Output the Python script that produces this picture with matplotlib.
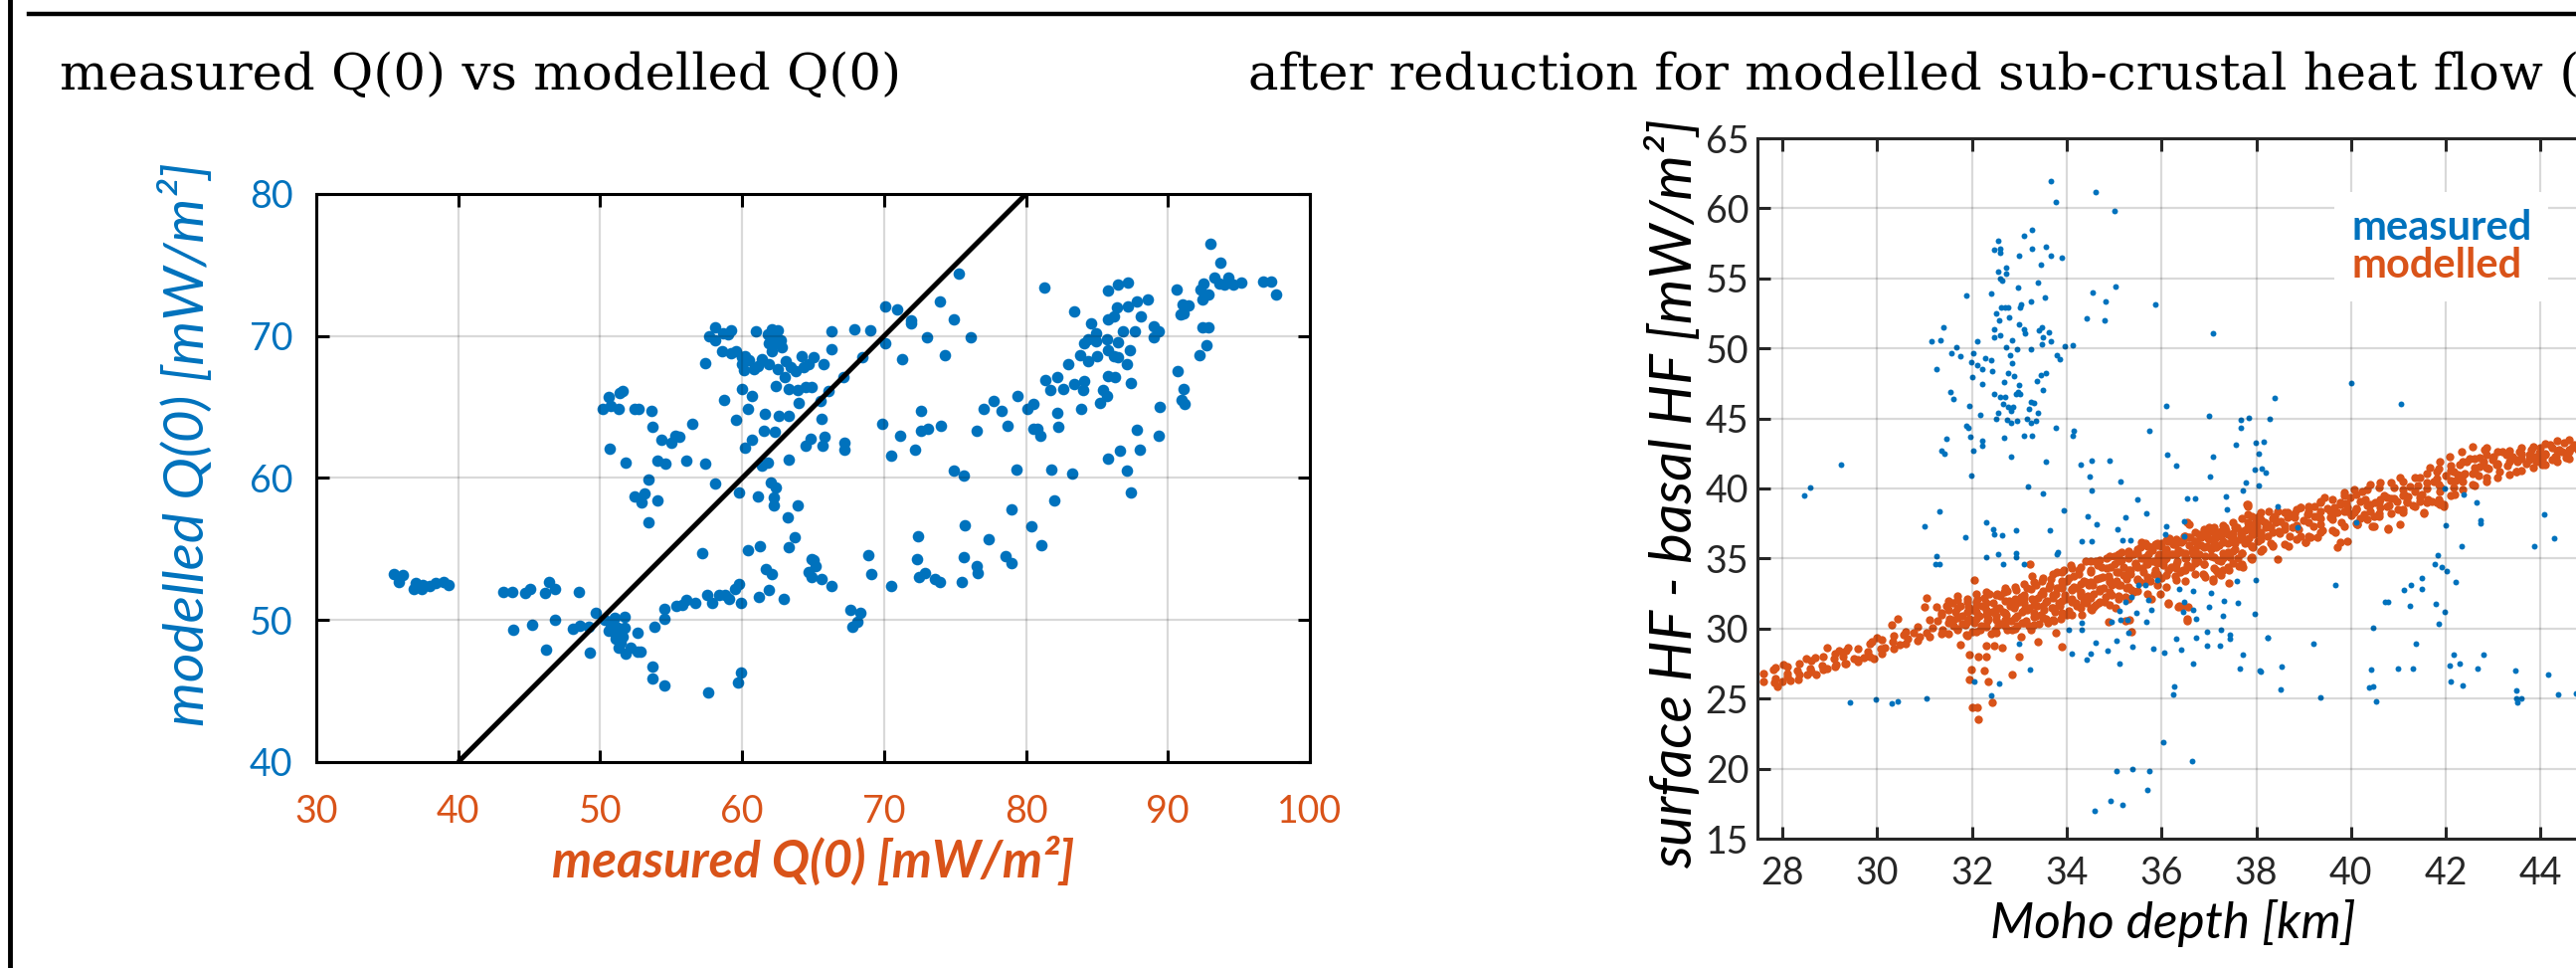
import numpy as np
import matplotlib.pyplot as plt

plt.rcParams['font.family'] = ['Lato', 'DejaVu Sans']

blue = '#0072BD'
orange = '#D95319'
dark = '#262626'

# ---- left panel: measured vs modelled Q(0) [mW/m2]
measured_q = [
    35.5, 36.1, 35.8, 36.9, 37.0, 37.4, 37.5, 38.0, 38.4, 39.0, 39.3,
    43.2, 43.8, 44.7, 45.1, 46.1, 46.4, 46.8, 48.5, 43.9, 45.2, 46.8, 46.2,
    48.1, 48.6, 49.2, 49.3, 49.7, 50.35, 50.75, 51.05, 50.6, 51.2, 51.7,
    51.1, 51.45, 51.3, 51.8, 52.15, 52.6, 52.86, 51.7, 52.6, 51.0, 51.6,
    53.8, 54.5, 54.5, 53.7, 53.7, 54.5, 57.6, 59.9, 59.7, 55.4, 55.8, 56.1,
    56.7, 57.55, 57.9, 58.4, 58.8, 59.1, 59.5, 59.8, 59.9, 57.2, 60.4, 61.25,
    61.65, 62.1, 61.2, 61.9, 62.9, 64.7, 64.9, 64.9, 50.2, 50.6, 50.75,
    51.3, 51.4, 51.6, 52.4, 52.7, 53.6, 53.7, 54.3, 55.0, 55.3, 55.6, 56.5,
    50.7, 51.8, 54.0, 54.6, 56.1, 57.4, 53.4, 52.4, 53.1, 52.9, 54.0, 53.4,
    58.1, 59.8, 61.1, 60.2, 60.7, 61.5, 62.3, 61.4, 61.8, 62.0, 62.35, 62.2,
    62.2, 63.9, 63.2, 63.7, 63.3, 63.3, 64.5, 64.8, 57.4, 57.7, 58.1, 58.1,
    58.65, 59.0, 59.2, 58.6, 59.2, 59.6, 60.2, 60.0, 60.5, 60.1, 60.8, 61.1,
    61.4, 61.0, 61.8, 62.1, 62.5, 62.2, 62.7, 62.3, 62.8, 61.9, 62.1, 61.9,
    62.5, 63.1, 63.4, 63.8, 64.3, 64.2, 64.7, 65.05, 63.0, 62.35, 63.25,
    63.9, 64.5, 64.9, 64.0, 63.3, 62.6, 61.6, 60.0, 60.7, 58.7, 60.4, 59.6,
    60.0,
    65.75, 66.3, 66.3, 67.9, 69.0, 70.1, 70.9, 71.9, 71.9, 73.9, 75.3, 74.9,
    73.0, 76.1, 70.1, 71.3, 74.3, 68.5, 67.15, 66.1, 65.5, 65.6, 65.8, 65.7,
    67.2, 67.2, 69.9, 71.1, 70.5, 72.2, 72.6, 72.6, 73.1, 74.0, 76.5, 77.0,
    77.7, 78.3, 78.7, 79.4, 80.1, 80.5, 80.5, 80.8, 81.0, 74.9, 75.6, 79.3,
    81.8, 83.25, 82.0, 79.0, 75.7, 72.4, 72.3, 72.45, 72.9, 73.6, 73.9, 75.5,
    75.6, 76.5, 76.6, 77.4, 78.55, 79.0, 80.4, 81.1, 70.5, 68.9, 69.1, 67.6,
    68.3, 68.1, 67.8, 65.6, 66.3, 65.2, 65.05, 81.3, 83.4, 81.35, 81.7, 82.2,
    82.6, 82.2, 82.3, 82.95, 83.4, 83.8, 83.9, 84.0, 84.1, 84.1, 84.4, 84.4,
    84.6, 84.9, 84.95, 85.0, 85.2, 85.4, 85.7, 85.7, 85.8, 85.8, 85.8, 85.8,
    86.3, 86.2, 86.5, 86.2, 86.4, 86.5, 86.5, 86.8, 87.1, 87.2, 87.2, 87.3,
    87.4, 87.7, 87.8, 88.1, 88.6, 89.0, 89.0, 89.35, 89.4, 89.35, 87.8, 88.0,
    86.6, 85.8, 87.1, 87.4, 90.6, 91.0, 91.45, 90.9, 91.1, 92.3, 92.5, 92.4,
    92.85, 92.4, 92.85, 92.7, 92.2, 93.0, 93.7, 93.3, 93.6, 94.0, 94.25,
    94.6, 95.2, 96.7, 97.3, 97.6, 90.7, 91.1, 90.95, 91.2,
]
modelled_q = [
    53.25, 53.2, 52.7, 52.2, 52.6, 52.2, 52.5, 52.4, 52.6, 52.7, 52.5,
    52.0, 51.95, 51.9, 52.2, 51.9, 52.65, 52.2, 52.0, 49.3, 49.7, 50.0, 47.9,
    49.4, 49.6, 49.5, 47.7, 50.5, 50.05, 49.74, 50.13, 49.27, 49.48, 49.48,
    48.7, 48.44, 48.05, 47.66, 48.05, 47.8, 47.8, 50.2, 49.1, 49.1, 48.8,
    49.5, 50.1, 50.8, 46.7, 45.9, 45.4, 44.9, 46.3, 45.6, 51.0, 51.1, 51.4,
    51.2, 51.8, 51.2, 51.8, 51.8, 51.5, 52.2, 52.55, 51.2, 54.7, 54.9, 55.2,
    53.6, 53.25, 51.6, 52.1, 51.5, 53.4, 53.0, 54.3, 64.9, 65.7, 65.1,
    64.9, 66.0, 66.1, 64.9, 64.9, 64.7, 63.6, 62.7, 62.5, 63.0, 62.9, 63.8,
    62.1, 61.1, 61.2, 61.0, 61.25, 61.0, 59.9, 58.7, 58.9, 58.3, 58.4, 56.9,
    59.6, 59.0, 58.7, 62.15, 62.7, 63.3, 63.25, 60.9, 61.1, 59.7, 59.35, 58.6,
    58.1, 58.05, 57.2, 55.8, 55.1, 61.3, 62.3, 62.8, 68.1, 69.95, 70.6, 69.7,
    70.2, 70.1, 70.4, 68.96, 68.8, 68.96, 68.6, 68.05, 68.3, 67.6, 67.7, 67.9,
    68.4, 70.3, 70.1, 70.5, 70.4, 69.9, 69.7, 69.5, 69.2, 69.5, 68.9, 68.05,
    67.7, 68.2, 67.8, 67.5, 67.8, 68.6, 68.0, 68.5, 67.1, 66.5, 66.3,
    66.2, 66.4, 66.4, 65.3, 64.4, 64.4, 64.55, 66.3, 65.8, 65.5, 64.9, 64.1,
    68.5,
    68.05, 69.1, 70.3, 70.5, 70.4, 72.1, 71.9, 71.1, 70.9, 72.4, 74.4, 71.2,
    69.9, 69.9, 69.5, 68.4, 68.65, 68.5, 67.1, 66.1, 65.4, 64.2, 62.9, 62.3,
    62.5, 62.0, 63.8, 63.0, 61.6, 62.0, 64.7, 63.3, 63.45, 63.7, 63.3, 64.9,
    65.45, 64.7, 63.7, 65.8, 64.9, 65.2, 63.5, 63.5, 63.0, 60.5, 60.2, 60.6,
    60.6, 60.3, 58.4, 57.8, 56.7, 55.9, 54.3, 53.0, 53.3, 52.9, 52.65, 52.65,
    54.4, 53.8, 53.3, 55.7, 54.5, 54.0, 56.6, 55.3, 52.4, 54.55, 53.25, 50.7,
    50.5, 49.9, 49.5, 52.9, 52.4, 53.8, 54.2, 73.4, 71.7, 66.9, 66.2, 67.1,
    66.3, 64.6, 63.6, 68.0, 66.6, 68.65, 64.9, 66.2, 66.8, 69.5, 69.8, 68.2,
    70.9, 70.2, 69.6, 68.6, 65.3, 66.2, 65.8, 69.8, 71.2, 69.0, 73.2, 67.2,
    67.1, 68.6, 68.5, 71.35, 72.0, 69.55, 73.6, 70.3, 68.05, 73.8, 72.1, 69.0,
    66.7, 70.3, 72.4, 71.4, 72.6, 70.65, 69.9, 70.3, 65.0, 63.0, 63.4, 62.0,
    61.9, 61.4, 60.5, 59.0, 73.25, 72.25, 72.15, 71.55, 71.6, 73.3, 73.7, 72.6,
    72.9, 70.6, 70.6, 69.35, 68.65, 76.5, 75.2, 74.1, 73.7, 73.6, 74.1,
    73.6, 73.8, 73.85, 73.85, 72.9, 67.5, 66.3, 65.5, 65.2,
]
one_to_one = [40, 80]

# ---- right panel: surface HF - basal HF vs Moho depth
moho_meas = [
    33.67, 34.6, 33.76, 35.0, 33.27, 33.09, 32.55, 32.47, 32.6, 32.6, 33.55,
    33.27, 33.0, 33.67, 33.89, 33.46, 32.55, 32.73, 32.71, 32.59, 32.64, 33.4,
    32.98, 32.4, 33.54, 31.87, 33.25, 33.04, 33.01, 32.62, 32.7, 32.76, 32.5,
    32.78, 32.57, 33.0, 32.47, 33.47, 33.09, 33.12, 33.41, 33.62, 33.5, 32.6,
    32.47, 31.4, 31.15, 31.34, 32.11, 32.84, 33.66, 33.96, 34.12, 33.47, 32.71,
    32.95, 33.25, 31.66, 31.56, 31.75, 32.03, 32.8, 33.78, 33.86, 32.28, 32.4,
    31.99, 32.12, 32.85, 32.43, 32.22, 31.24, 32.76, 32.01, 32.88, 33.55,
    33.46, 33.36, 32.67, 32.22, 33.0, 32.98, 32.94, 32.47, 32.6, 32.69, 33.02,
    33.5, 31.55, 31.61, 33.25, 33.31, 32.65, 32.76, 32.86, 31.94, 33.2, 32.82,
    33.4, 32.56, 32.17, 32.52, 32.75, 32.96, 33.16, 33.34, 33.24, 32.82,
    31.87, 31.92, 33.77, 34.15, 34.13, 33.26, 33.1, 32.68, 31.97, 31.45,
    32.22, 32.21, 31.35, 31.42, 32.03, 32.83, 33.55, 29.24, 28.59, 28.45,
    31.98, 33.18, 33.5, 34.3, 34.52, 34.48, 34.53, 34.9, 35.13, 35.5, 35.69,
    33.94, 34.45, 34.62, 35.24, 35.08, 35.18, 35.34, 34.52, 34.32, 33.78,
    33.81, 33.65, 32.92, 32.64, 32.45, 32.47, 32.31, 31.86, 31.31, 31.0,
    31.24, 31.22, 31.32, 32.3, 32.56, 32.65, 32.94, 32.93, 33.1, 36.09, 35.75,
    36.11, 36.31, 35.86, 35.02, 34.55, 34.81, 34.42, 34.8, 37.09, 37.0, 37.67,
    37.85, 38.28, 37.57, 37.67, 37.08, 37.03, 37.98, 38.16, 38.05, 38.12,
    38.2, 37.97, 37.78, 38.06, 37.71, 37.36, 37.39, 36.55, 36.7, 36.1, 36.47,
    36.07, 38.38,
    34.95, 35.14, 35.3, 35.38, 35.05, 34.86, 34.5, 34.6, 34.41, 35.11, 34.31,
    34.04, 34.11, 34.31, 35.83, 36.05, 36.31, 36.41, 36.26, 36.24, 36.66,
    36.73, 36.95, 36.96, 37.23, 37.25, 37.45, 37.45, 37.66, 37.71, 38.08,
    38.24, 37.96, 37.29, 37.0, 37.05, 36.66, 36.73, 36.66, 36.46, 36.37,
    36.48, 37.31, 37.61, 37.59, 37.99, 35.72, 35.78, 35.68, 35.46, 35.37,
    35.24, 35.11, 35.29, 36.03, 36.64, 35.04, 35.38, 35.74, 35.71, 34.92,
    35.17, 34.59, 33.22, 32.57, 32.41, 32.05, 31.03, 30.43, 30.3, 29.97,
    29.43, 32.99, 35.51, 36.47, 35.9, 35.66,
    40.01, 41.06, 42.0, 42.37, 42.65, 42.74, 42.74, 44.07, 44.29, 43.87,
    42.33, 41.97, 40.11, 38.87, 38.46, 41.83, 41.77, 41.91, 42.01, 42.2,
    41.5, 41.5, 41.26, 41.11, 41.79, 41.97, 41.86, 41.25, 40.71, 40.79,
    40.46, 41.36, 42.16, 42.79, 42.08, 42.29, 42.68, 42.1, 42.35, 43.46,
    44.17, 43.49, 43.48, 43.52, 43.6, 44.38, 44.74, 41.0, 41.3, 40.43,
    40.38, 40.46, 40.53, 39.36, 39.2, 39.66, 38.53, 38.52, 38.1, 38.25,
]
hf_meas = [
    61.97, 61.17, 60.44, 59.83, 58.46, 58.04, 57.69, 57.02, 57.12, 56.86,
    57.28, 57.12, 56.6, 56.6, 56.48, 56.0, 55.49, 55.74, 55.36, 55.0, 54.85,
    54.72, 54.37, 53.9, 53.67, 53.76, 53.35, 53.13, 52.93, 52.93, 52.93,
    52.93, 52.49, 52.23, 51.98, 51.72, 51.34, 51.53, 51.34, 51.05, 51.28,
    51.12, 50.8, 50.96, 50.8, 51.53, 50.48, 50.57, 50.48, 50.57, 50.48,
    50.16, 50.25, 50.32, 50.06, 49.93, 49.93, 50.09, 49.68, 49.46, 49.68,
    49.52, 49.52, 49.2, 49.3, 49.14, 49.04, 48.82, 48.95, 48.4, 48.5, 48.5,
    48.24, 47.99, 48.0, 48.24, 48.08, 47.7, 47.6, 47.44, 47.38, 46.87, 46.74,
    46.74, 46.55, 46.55, 46.74, 47.03, 46.87, 46.42, 46.17, 46.1, 46.07,
    45.85, 45.85, 45.91, 45.69, 45.53, 45.37, 45.37, 45.27, 44.96, 44.89,
    44.83, 44.96, 44.83, 44.67, 44.67, 44.48, 44.32, 44.32, 44.1, 43.77,
    43.77, 43.77, 43.62, 43.68, 43.55, 43.39, 43.04, 42.72, 42.5, 42.72,
    42.27, 41.89, 41.73, 40.07, 39.47, 40.9, 40.14, 39.63, 41.7, 41.96,
    40.84, 39.88, 42.02, 40.49, 39.21, 38.25, 38.41, 38.03, 37.46, 37.93,
    37.1, 36.34, 36.34, 36.21, 36.27, 35.32, 35.48, 37.01, 37.01, 36.66,
    37.07, 36.75, 37.61, 36.53, 38.38, 37.33, 35.16, 34.61, 34.58, 35.09,
    35.32, 34.61, 35.38, 35.12, 34.58, 45.88, 44.1, 42.43, 41.6, 53.13, 54.4,
    54.02, 53.35, 52.17, 52.01, 51.05, 45.21, 44.89, 45.02, 44.96, 43.14,
    44.32, 42.27, 40.87, 43.26, 43.36, 42.5, 41.44, 41.13, 41.35, 40.42,
    40.2, 39.88, 39.43, 38.54, 39.31, 39.31, 37.3, 37.65, 36.75, 46.49,
    30.46, 30.59, 29.73, 28.74, 29.16, 28.42, 28.23, 29.0, 27.78, 27.53,
    29.89, 29.95, 28.23, 30.43, 28.55, 28.29, 29.25, 28.49, 25.84, 25.3,
    27.53, 29.38, 29.76, 28.8, 28.77, 29.92, 29.57, 29.25, 27.18, 28.13,
    27.02, 29.35, 31.04, 30.91, 31.55, 32.57, 32.7, 30.69, 31.33, 31.17,
    32.86, 31.93, 32.0, 31.81, 33.43, 33.5, 32.06, 31.33, 30.46, 31.1, 32.25,
    31.9, 31.23, 30.59, 21.91, 20.54, 19.84, 20.0, 19.84, 18.5, 17.73, 17.44,
    16.96, 27.05, 26.06, 25.26, 26.22, 25.04, 24.78, 24.66, 24.91, 24.72,
    28.93, 33.08, 36.62, 33.5, 33.08,
    47.56, 46.04, 37.35, 39.58, 38.99, 37.76, 37.52, 38.16, 36.45, 35.91,
    35.91, 40.0, 37.56, 37.26, 38.75, 35.24, 34.6, 34.37, 34.08, 33.35,
    33.59, 32.83, 33.14, 32.78, 31.76, 31.17, 30.34, 31.59, 31.88, 31.88,
    30.03, 28.92, 28.13, 28.16, 27.35, 27.5, 27.12, 26.24, 25.91, 27.02,
    26.74, 25.55, 25.0, 24.76, 25.0, 25.29, 25.35, 27.14, 27.14, 27.1,
    25.77, 25.9, 24.77, 25.06, 28.9, 33.11, 27.31, 25.67, 26.95, 29.32,
]

moho_mod = [
    27.8, 27.83, 27.9, 28.01, 28.0, 28.11, 28.17, 28.32, 28.34, 28.5, 28.52,
    28.59, 28.69, 28.71, 28.83, 28.94, 28.95, 29.08, 29.13, 29.2, 29.27,
    29.32, 29.39, 29.5, 29.6, 29.71, 29.81, 29.88, 29.92, 29.99, 30.07,
    30.16, 30.3, 30.33, 30.44, 30.48, 30.55, 30.65, 30.76, 30.9, 31.03, 31.0,
    31.03, 31.16, 31.24, 31.28, 31.35, 31.38, 31.45, 31.52, 31.59, 31.61,
    31.7, 31.72, 31.75, 31.8, 31.87, 31.93, 31.94, 31.98, 31.94, 32.0, 32.05,
    32.08, 32.12, 32.12, 32.14, 32.14, 32.17, 32.22, 32.26, 32.3, 32.3, 32.33,
    32.35, 32.36, 32.42, 32.43, 32.47, 32.49, 32.54, 32.57, 32.6, 32.64,
    32.68, 32.71, 32.75, 32.78, 32.82, 32.85, 32.89, 32.92, 32.96, 32.99,
    33.03, 33.03, 33.06, 33.1, 33.13, 33.17, 33.2, 33.22, 33.24, 33.26, 33.27,
    33.31, 33.34, 33.38, 33.4, 33.41, 33.45, 33.48, 33.52, 33.55, 33.59,
    33.62, 33.66, 33.69, 33.73, 33.76, 33.76, 33.8, 33.83, 33.87, 33.89,
    33.9, 33.94, 33.97, 34.01, 34.04, 34.08, 34.11, 34.15, 34.18, 34.22,
    34.25, 34.29, 34.32, 34.36, 34.39, 34.43, 34.46, 34.5, 34.53, 34.57,
    34.6, 34.64, 34.67, 34.74, 34.78, 34.81, 34.85, 34.88, 34.92, 34.95,
    35.01, 35.02, 35.06, 35.09, 35.13, 35.16, 35.2, 35.23, 35.27, 35.3,
    35.34, 35.37, 35.41, 35.44, 35.5, 35.55, 35.58, 35.62, 35.65, 35.69,
    35.72, 35.76, 35.79, 35.83, 35.86, 35.9, 35.93, 35.97, 36.0, 36.03,
    36.07, 36.14, 36.17, 36.21, 36.24, 36.28, 36.31, 36.34, 36.38, 36.42,
    36.45, 36.48, 36.52, 36.55, 36.55, 36.59, 36.62, 36.66, 36.7, 36.77,
    36.8, 36.84, 36.87, 36.91, 36.98, 37.01, 37.05, 37.08, 37.12, 37.15,
    37.19, 37.22, 37.26, 37.29, 37.33, 37.4, 37.43, 37.47, 37.54, 37.57,
    37.61, 37.68, 37.71, 37.75, 37.8, 37.82, 37.85, 37.89, 37.92, 37.96,
    37.99, 38.03, 38.06, 38.1, 38.13, 38.17, 38.24, 38.27, 38.31, 38.34,
    42.57, 42.82, 42.33, 42.09, 41.88, 41.67, 41.81, 42.16, 42.43, 42.71,
    42.99, 43.27, 43.55, 43.76, 43.97, 44.25, 44.46, 44.67, 43.48, 43.9,
    44.25, 44.53, 44.04, 43.48, 43.06, 42.85, 42.57, 42.36, 42.16, 41.88,
    41.74, 41.46, 41.25, 41.04, 40.9, 40.76, 40.62, 40.41, 40.23, 40.06,
    39.85, 39.99, 39.78, 39.64, 39.43, 39.36, 39.22, 39.08, 38.94, 38.8,
    38.66, 38.52, 38.38, 38.24, 38.1, 37.96, 37.82, 37.68, 37.54, 37.4,
    37.26, 37.12, 36.98, 36.84, 36.7, 36.56, 36.42, 36.28, 36.14, 36.0,
    35.86, 35.72, 35.58,
    43.48, 41.88, 41.95, 41.53, 41.04, 40.79, 40.48, 40.44, 40.13, 39.67,
    39.78, 39.15, 39.04, 38.94, 39.57, 41.11, 42.26, 41.46, 42.19, 42.57,
    42.85, 42.33, 43.13, 43.76, 44.04, 44.32, 42.71, 41.18, 40.62, 40.27,
    39.92, 39.36, 38.76, 38.48, 37.82, 36.59, 37.82,
    37.82, 38.1, 38.45, 38.66, 38.94, 39.22, 39.36, 39.57, 39.78, 39.92,
    40.06, 40.2, 40.41, 40.62, 40.76, 40.97, 41.18, 41.46, 41.81, 41.95,
    38.45, 37.91, 37.43, 37.64, 37.08, 37.4, 37.19, 37.26, 36.91, 36.56,
    36.35, 36.42, 36.54, 36.14, 35.79, 35.37, 34.88, 35.23, 35.33, 34.56,
    38.69, 39.71, 39.92, 39.04, 39.29, 41.53, 41.88, 41.1, 40.79, 40.48,
    40.13, 41.63,
    31.6, 31.65, 31.7, 31.75, 31.8, 31.85, 31.9, 31.95, 32.0, 32.0,
    32.05, 32.1, 32.15, 32.2, 32.25, 32.3, 32.35, 32.4, 32.45, 32.5,
    32.55, 32.6, 32.65, 32.7, 32.75, 32.8, 32.85, 32.9, 32.95, 33.0,
    33.05, 33.1, 33.15, 33.2, 33.25, 33.3, 33.35, 33.4, 33.45, 33.5,
    33.55, 33.6, 33.65, 33.7, 33.75, 33.8, 33.85, 33.9, 33.95, 34.0,
    34.05, 34.1, 34.15, 34.2, 34.25, 34.3, 34.35, 34.4, 34.45, 34.5,
    34.55, 34.6, 34.65, 34.7, 34.75, 34.8, 34.85, 34.9, 34.95, 35.0,
    35.05, 35.1, 35.15, 35.2, 35.25, 35.3, 35.35, 35.4, 35.45, 35.5,
    35.55, 35.6, 35.65, 35.7, 35.75, 35.8, 35.85, 35.9, 35.95, 36.0,
    36.05, 36.1, 36.15, 36.2, 36.25, 36.3, 36.35, 36.4, 36.45, 36.5,
    36.55, 36.6, 36.65, 36.7, 36.75, 36.8, 36.85, 36.9, 36.95, 37.0,
    37.05, 37.1, 37.15, 37.2, 37.25, 37.3, 37.35, 37.4, 37.45, 37.5,
    37.55, 37.6, 37.65, 37.7, 37.75, 37.8, 37.85, 37.9, 37.95, 38.0,
    38.1, 38.2, 38.3, 38.4, 38.5, 38.6, 38.7, 38.8, 38.9, 39.0,
    39.1, 39.2, 39.3, 39.4, 39.5, 39.6, 39.7, 39.8, 39.9, 40.0,
    40.1, 40.2, 40.3, 40.4, 40.5, 40.6, 40.7, 40.8, 40.9, 41.0,
    41.1, 41.2, 41.3, 41.4, 41.5, 41.6, 41.7, 41.8, 41.9, 42.0,
    42.1, 42.2, 42.3, 42.4, 42.5, 42.6, 42.7, 42.8, 42.9, 43.0,
    43.1, 43.2, 43.3, 43.4, 43.5, 43.6, 43.7, 43.8, 43.9, 44.0,
    44.1, 44.2, 44.3, 44.4, 44.5, 44.6, 44.7, 44.8, 44.9, 45.0,
]
hf_mod = [
    27.08, 26.12, 25.9, 27.43, 26.22, 26.76, 26.31, 27.02, 26.38, 27.82, 26.7,
    27.18, 27.91, 26.7, 27.34, 28.61, 27.18, 27.82, 27.4, 28.45, 27.98,
    27.5, 28.61, 27.82, 27.66, 27.91, 28.36, 29.09, 27.82, 29.32, 28.55,
    28.61, 30.27, 29.09, 30.69, 28.87, 29.57, 29.25, 29.73, 29.41, 32.19, 31.55,
    29.73, 30.05, 31.55, 30.53, 31.1, 29.89, 31.65, 30.69, 31.81, 30.21,
    32.06, 30.85, 28.87, 30.37, 29.57, 31.55, 28.13, 27.08, 26.38, 24.4, 33.46,
    31.17, 32.12, 24.4, 23.51, 27.98, 29.89, 31.65, 27.02, 27.98, 28.77, 30.53,
    26.22, 32.44, 24.72, 31.17, 28.77, 29.89, 32.44, 31.49, 30.37, 28.61,
    32.6, 31.01, 29.89, 31.97, 30.53, 26.7, 31.49, 32.76, 30.21, 27.98,
    29.41, 32.28, 31.17, 31.81, 30.53, 32.92, 31.49, 34.61, 29.89, 33.78, 32.12,
    30.85, 33.08, 31.65, 29.09, 30.37, 32.44, 33.4, 31.33, 30.69, 31.97,
    32.92, 33.56, 31.49, 30.53, 29.73, 32.44, 34.04, 31.81, 30.69, 28.68,
    33.08, 34.2, 32.12, 33.4, 31.23, 34.52, 32.76, 33.72, 31.81, 32.92,
    34.2, 32.44, 31.01, 33.4, 34.84, 31.81, 33.08, 34.04, 31.33, 32.44,
    34.84, 33.56, 31.81, 34.36, 32.92, 32.28, 35.0, 33.72, 34.36, 33.08,
    35.16, 31.49, 34.04, 34.84, 33.08, 35.48, 34.36, 32.28, 33.56, 35.0,
    34.2, 32.76, 35.32, 34.68, 33.56, 35.8, 35.0, 34.04, 36.11, 34.68,
    35.32, 33.4, 35.8, 34.84, 34.2, 35.95, 35.16, 32.44, 36.11, 34.52,
    35.48, 31.81, 36.43, 34.36, 35.32, 33.72, 36.11, 34.84, 31.65, 35.48,
    34.2, 36.59, 35.0, 37.55, 30.69, 35.95, 34.36, 35.32, 36.27, 34.84,
    36.75, 35.95, 33.88, 35.16, 36.43, 37.23, 35.64, 33.56, 36.43, 34.2,
    36.91, 35.95, 34.84, 36.27, 37.23, 35.48, 34.2, 36.59, 36.11, 37.23,
    35.0, 36.75, 34.36, 36.11, 38.83, 37.23, 36.43, 35.0, 35.8, 36.91,
    37.55, 36.27, 38.03, 36.91, 35.64, 37.55, 36.59, 38.35, 37.23, 35.95,
    43.01, 42.78, 42.66, 42.3, 41.95, 41.47, 41.24, 41.24, 41.95, 42.18,
    42.07, 42.42, 42.66, 42.42, 42.54, 42.89, 42.66, 42.89, 42.07, 41.95,
    42.07, 42.18, 41.71, 41.24, 41.71, 40.76, 40.29, 40.53, 40.05, 39.81,
    40.53, 40.76, 40.17, 40.76, 40.05, 39.34, 40.41, 40.29, 39.81, 39.93,
    39.7, 39.34, 38.99, 38.63, 39.34, 38.39, 38.75, 38.16, 38.63, 37.92,
    38.27, 37.68, 38.04, 37.45, 37.8, 37.21, 37.56, 36.97, 37.21, 36.73,
    36.97, 36.62, 36.85, 36.5, 36.26, 36.5, 36.14, 36.02, 36.26, 35.91,
    36.02, 35.91, 36.14,
    41.19, 38.99, 38.75, 38.23, 37.45, 37.14, 38.04, 37.33, 37.45, 36.85,
    36.14, 36.5, 36.14, 36.62, 37.92, 39.58, 41.0, 39.34, 39.58, 41.05,
    42.89, 40.95, 41.24, 42.07, 42.07, 42.3, 41.59, 39.1, 38.63, 38.16,
    38.39, 37.45, 37.21, 36.97, 38.75, 37.45, 38.16,
    38.87, 38.27, 38.39, 37.92, 38.63, 38.04, 39.1, 38.39, 38.87, 38.63,
    38.27, 39.1, 38.87, 39.22, 38.75, 39.1, 38.98, 39.1, 38.98, 38.87,
    34.96, 34.96, 33.23, 34.48, 33.42, 34.36, 33.97, 33.84, 33.65, 31.52,
    31.52, 31.52, 30.57, 31.76, 32.1, 29.75, 30.46, 30.57, 30.62, 31.52,
    35.9, 35.79, 36.26, 36.14, 36.5, 38.27, 38.87, 38.27, 37.09, 37.33,
    37.45, 39.22,
    30.6, 31.2, 30.0, 31.6, 30.9, 30.3, 31.9, 30.7, 31.3, 29.8,
    30.4, 31.9, 30.9, 30.2, 32.2, 31.3, 30.7, 29.6, 31.8, 30.9,
    30.3, 32.3, 31.2, 30.6, 32.7, 31.6, 29.9, 32.1, 30.9, 31.9,
    30.4, 32.4, 31.3, 30.2, 32.8, 31.7, 30.9, 32.2, 31.0, 32.7,
    31.9, 30.4, 33.1, 32.2, 31.2, 32.9, 31.6, 33.4, 32.4, 31.0,
    33.6, 32.1, 33.0, 31.6, 33.9, 32.6, 31.9, 33.3, 32.3, 34.2,
    33.1, 31.7, 34.5, 32.8, 33.7, 31.9, 34.3, 33.3, 32.4, 34.6,
    33.4, 32.1, 34.9, 33.8, 32.9, 35.2, 33.9, 32.6, 34.6, 35.4,
    33.3, 34.3, 35.1, 33.7, 34.8, 35.6, 33.9, 34.7, 35.3, 33.6,
    34.9, 35.7, 34.2, 35.3, 36.0, 34.6, 35.6, 34.0, 36.3, 35.0,
    34.5, 36.5, 35.5, 34.9, 36.1, 35.3, 36.6, 34.6, 35.9, 36.4,
    35.2, 36.9, 35.8, 34.9, 36.6, 35.4, 37.0, 36.1, 35.1, 36.8,
    35.7, 37.2, 36.4, 35.4, 37.0, 36.2, 37.5, 35.9, 36.7, 37.3,
    36.4, 37.2, 36.1, 37.6, 36.8, 37.4, 36.6, 38.2, 37.1, 37.7,
    38.4, 37.3, 38.0, 37.0, 38.6, 37.8, 38.3, 37.6, 38.9, 38.1,
    38.6, 37.9, 39.2, 38.4, 39.0, 38.2, 39.5, 38.8, 39.3, 38.5,
    39.9, 39.4, 38.8, 40.2, 39.6, 40.4, 39.1, 40.7, 40.1, 40.9,
    41.3, 40.6, 41.7, 41.1, 42.1, 41.5, 40.9, 41.9, 41.4, 42.3,
    41.8, 42.6, 41.6, 42.3, 41.9, 42.5, 41.8, 42.8, 42.2, 42.9,
    42.4, 43.1, 42.3, 42.8, 43.3, 42.6, 43.1, 42.8, 43.4, 43.0,
]

# the solid part of the modelled band, read row by row
band_moho = [
    27.6, 27.6, 27.85, 27.85, 28.1, 28.1, 28.35, 28.35, 28.6, 28.6,
    28.85, 28.85, 29.1, 29.1, 29.35, 29.35, 29.6, 29.6, 29.85, 29.85,
    30.1, 30.1, 30.35, 30.35, 30.6, 30.6, 30.85, 30.85, 31.1, 31.1,
    31.35, 31.35,
    31.5, 31.5, 31.5, 31.5, 31.7, 31.7, 31.7, 31.7, 31.9, 31.9, 31.9, 31.9,
    32.1, 32.1, 32.1, 32.1, 32.3, 32.3, 32.3, 32.3, 32.5, 32.5, 32.5, 32.5,
    32.7, 32.7, 32.7, 32.7, 32.9, 32.9, 32.9, 32.9, 33.1, 33.1, 33.1, 33.1,
    33.3, 33.3, 33.3, 33.3, 33.5, 33.5, 33.5, 33.5, 33.7, 33.7, 33.7, 33.7,
    33.9, 33.9, 33.9, 33.9, 34.1, 34.1, 34.1, 34.1, 34.3, 34.3, 34.3, 34.3,
    34.5, 34.5, 34.5, 34.5, 34.7, 34.7, 34.7, 34.7, 34.9, 34.9, 34.9, 34.9,
    35.1, 35.1, 35.1, 35.1, 35.3, 35.3, 35.3, 35.3, 35.5, 35.5, 35.5, 35.5,
    35.7, 35.7, 35.7, 35.7, 35.9, 35.9, 35.9, 35.9, 36.1, 36.1, 36.1, 36.1,
    36.3, 36.3, 36.3, 36.3, 36.5, 36.5, 36.5, 36.5, 36.7, 36.7, 36.7, 36.7,
    36.9, 36.9, 36.9, 36.9, 37.1, 37.1, 37.1, 37.1, 37.3, 37.3, 37.3, 37.3,
    37.5, 37.5, 37.5, 37.5, 37.7, 37.7, 37.7, 37.7, 37.9, 37.9, 37.9, 37.9,
    38.1, 38.1, 38.1, 38.35, 38.35, 38.35, 38.6, 38.6, 38.6, 38.85, 38.85,
    38.85, 39.1, 39.1, 39.1, 39.35, 39.35, 39.35, 39.6, 39.6, 39.6, 39.85,
    39.85, 39.85, 40.1, 40.1, 40.1, 40.35, 40.35, 40.35, 40.6, 40.6, 40.6,
    40.85, 40.85, 40.85, 41.1, 41.1, 41.1, 41.35, 41.35, 41.35, 41.6, 41.6,
    41.6, 41.85, 41.85, 41.85, 42.1, 42.1, 42.1, 42.35, 42.35, 42.35, 42.6,
    42.6, 42.6, 42.85, 42.85, 42.85, 43.1, 43.1, 43.1, 43.35, 43.35, 43.35,
    43.6, 43.6, 43.6, 43.85, 43.85, 43.85, 44.1, 44.1, 44.1, 44.35, 44.35,
    44.35, 44.6, 44.6, 44.6, 44.85, 44.85, 44.85,
]
band_hf = [
    26.2, 26.8, 26.4, 27.2, 26.6, 27.3, 26.7, 27.5, 26.9, 27.7,
    27.1, 28.0, 27.3, 28.2, 27.5, 28.4, 27.8, 28.6, 28.0, 28.9,
    28.2, 29.2, 28.6, 29.5, 28.9, 29.8, 29.1, 30.1, 29.4, 30.6,
    29.6, 31.0,
    29.6, 30.4, 31.3, 32.0, 29.9, 30.8, 31.5, 32.3, 29.5, 30.5, 31.2, 32.1,
    29.8, 30.7, 31.6, 32.5, 30.1, 31.0, 31.8, 32.6, 29.7, 30.6, 31.4, 32.4,
    30.2, 31.1, 32.0, 32.9, 30.0, 30.8, 31.7, 33.0, 30.4, 31.3, 32.2, 33.2,
    30.3, 31.1, 32.0, 33.3, 30.8, 31.6, 32.5, 33.6, 30.6, 31.5, 32.4, 33.9,
    31.1, 32.0, 32.9, 34.0, 31.0, 31.9, 32.8, 34.3, 31.5, 32.3, 33.2, 34.4,
    31.4, 32.2, 33.3, 34.8, 31.9, 32.7, 33.6, 34.9, 31.7, 32.6, 33.5, 35.2,
    32.3, 33.1, 34.0, 35.3, 32.1, 33.0, 34.2, 35.5, 32.7, 33.5, 34.4, 35.7,
    32.5, 33.4, 34.6, 35.9, 33.1, 33.9, 34.9, 36.1, 33.0, 33.8, 35.0, 36.3,
    33.5, 34.3, 35.3, 36.4, 33.4, 34.2, 35.4, 36.6, 33.9, 34.7, 35.7, 36.9,
    33.8, 34.6, 35.8, 37.1, 34.3, 35.1, 36.1, 37.2, 34.2, 35.0, 36.2, 37.4,
    34.7, 35.5, 36.5, 37.6, 34.6, 35.4, 36.6, 37.9, 35.1, 35.9, 36.9, 38.0,
    35.5, 36.6, 37.7, 35.9, 36.9, 37.9, 36.0, 37.1, 38.3, 36.4, 37.4,
    38.5, 36.6, 37.6, 38.7, 36.9, 37.9, 39.0, 37.0, 38.1, 39.2, 37.3,
    38.4, 39.5, 37.5, 38.5, 39.6, 37.8, 38.8, 39.9, 38.0, 39.0, 40.1,
    38.2, 39.3, 40.4, 38.5, 39.5, 40.5, 38.7, 39.8, 40.8, 39.0, 40.0,
    41.1, 39.2, 40.3, 41.4, 39.5, 40.6, 41.6, 39.9, 40.9, 41.9, 40.2,
    41.2, 42.1, 40.5, 41.5, 42.4, 40.8, 41.7, 42.6, 41.0, 41.9, 42.7,
    41.3, 42.1, 42.9, 41.5, 42.3, 43.0, 41.7, 42.5, 43.2, 41.9, 42.7,
    43.4, 42.1, 42.8, 43.5, 42.3, 43.0, 43.7,
]

W, H = 2590, 973
fig = plt.figure(figsize=(W / 100, H / 100), dpi=100)

# page rules on the left and at the top
fig.add_artist(plt.Line2D([9.5 / W, 9.5 / W], [0, 1], color='black', lw=3.5))
fig.add_artist(plt.Line2D([29 / W, 1], [1 - 14 / H, 1 - 14 / H], color='black', lw=3.2))

fig.text(60 / W, 1 - 90 / H, 'measured Q(0) vs modelled Q(0)', family='DejaVu Serif',
         fontsize=37, va='baseline')
fig.text(1255 / W, 1 - 90 / H,
         'after reduction for modelled sub-crustal heat flow (Q(0)',
         family='DejaVu Serif', fontsize=37, va='baseline')

# left axes
ax1 = fig.add_axes([318 / W, (H - 766) / H, 999 / W, 571 / H])
ax1.scatter(measured_q, modelled_q, s=70, color=blue, linewidths=0, zorder=2)
ax1.plot(one_to_one, one_to_one, color='black', lw=3.6, zorder=4, solid_capstyle='butt')
ax1.set_xlim(30, 100)
ax1.set_ylim(40, 80)
ax1.set_xticks(np.arange(30, 101, 10))
ax1.set_yticks(np.arange(40, 81, 10))
ax1.grid(True, color='black', alpha=0.15, lw=1.6)
ax1.set_axisbelow(False)
for sp in ax1.spines.values():
    sp.set_linewidth(2.2)
    sp.set_color('black')
    sp.set_zorder(5)
ax1.tick_params(direction='in', length=9, width=2.2, top=True, right=True, labelsize=27)
ax1.tick_params(axis='x', pad=23, labelcolor=orange)
ax1.tick_params(axis='y', pad=17, labelcolor=blue)
ax1.set_xlabel('measured Q(0) [mW/m²]', color=orange, fontsize=36.5, style='italic',
               weight='bold')
ax1.xaxis.set_label_coords(0.5, -0.131)
ax1.set_ylabel('modelled Q(0) [mW/m²]', color=blue, fontsize=41, style='italic')
ax1.yaxis.set_label_coords(-0.103, 0.56)

# right axes
ax2 = fig.add_axes([1767.4 / W, (H - 843) / H, 834.6 / W, 704 / H])
mod_pts = ax2.scatter(moho_mod + band_moho, hf_mod + band_hf, s=36, color=orange,
                      linewidths=0, zorder=1, label='modelled')
meas_pts = ax2.scatter(moho_meas, hf_meas, s=18, color=blue, linewidths=0, zorder=2,
                       label='measured')
ax2.set_xlim(27.48, 45.0)
ax2.set_ylim(15, 65)
ax2.set_xticks(np.arange(28, 45, 2))
ax2.set_yticks(np.arange(15, 66, 5))
ax2.grid(True, color='black', alpha=0.15, lw=1.6)
ax2.set_axisbelow(False)
for sp in ax2.spines.values():
    sp.set_linewidth(2.2)
    sp.set_color(dark)
    sp.set_zorder(5)
ax2.tick_params(direction='in', length=9, width=2.2, top=True, right=True, labelsize=27,
                colors=dark)
ax2.tick_params(axis='x', pad=12)
ax2.tick_params(axis='y', pad=6.5)
ax2.set_xlabel('Moho depth [km]', fontsize=37, style='italic', color='black')
ax2.xaxis.set_label_coords(0.5, -0.086)
ax2.set_ylabel('surface HF - basal HF [mW/m²]', fontsize=41.5, style='italic',
               color='black')
ax2.yaxis.set_label_coords(-0.067, 0.493)

leg = ax2.legend(handles=[meas_pts, mod_pts], loc='upper right',
                 bbox_to_anchor=(0.952, 0.923), borderaxespad=0, handlelength=0,
                 handletextpad=0, labelcolor=[blue, orange], labelspacing=0.0,
                 borderpad=0.4, prop=dict(family='Lato', weight='bold', size=30),
                 frameon=True, facecolor='white', edgecolor='none', framealpha=1,
                 fancybox=True)
leg.set_zorder(10)
for h in leg.legend_handles:
    h.set_visible(False)

fig.savefig('out.png', dpi=100)
